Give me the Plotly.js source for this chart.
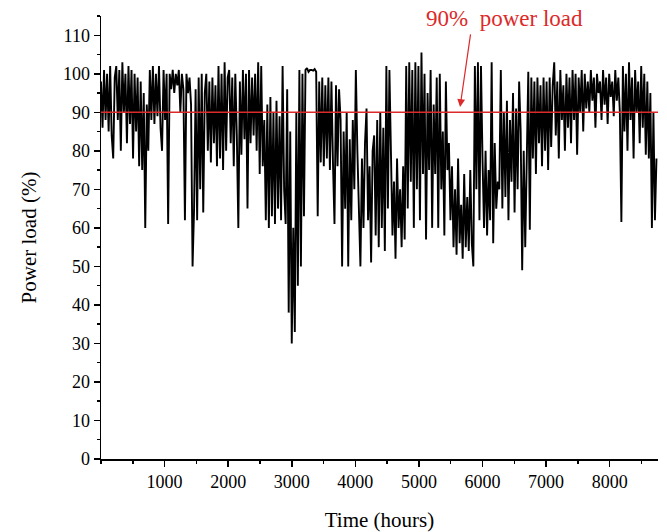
<!DOCTYPE html>
<html>
<head>
<meta charset="utf-8">
<script src="https://cdn.plot.ly/plotly-3.0.1.min.js"></script>
<style>html,body{margin:0;padding:0;background:#fff;}#chart{width:667px;height:532px;}</style>
</head>
<body>
<div id="chart"></div>
<script>
const startHour = 0;
const stepHours = 24;
const loadPct = [
  98, 86, 101, 88, 100, 85, 102, 84, 78, 99,
  102, 88, 101, 80, 103, 90, 100, 82, 102, 87,
  101, 78, 100, 85,
  99, 76, 98, 75, 95, 60, 92, 80,
  101, 88, 102, 87, 100, 89, 102, 86, 80, 101, 88, 100,
  61, 100, 96, 101, 95, 100, 97, 101, 90, 100, 96, 62, 100, 95, 99, 92, 50,
  65, 96, 62, 99, 70, 100, 64, 95,
  100, 80, 98, 77, 99, 82, 97, 76,
  102, 78, 100, 75, 103, 80, 99,
  101, 82, 99, 76, 100, 84, 60, 98, 79, 101, 83,
  100, 65, 101, 82, 99, 84, 100, 80,
  103, 74, 102, 76,
  88, 62, 92, 60, 94, 63, 90, 61, 93, 65, 89, 62,
  102, 70,
  61, 96, 38, 85, 30, 60, 33, 90, 45,
  101, 50, 100, 63,
  101, 101.5, 100.5, 101, 101, 100.8, 101.2, 100.5,
  63, 98, 77, 99, 76, 97, 78, 99, 75, 98, 77, 61, 97, 76, 96,
  88, 50, 85, 65, 90, 50, 83, 62, 88, 70, 101,
  80, 61, 50, 78, 60, 82, 91, 62, 76, 51, 80,
  84, 58, 88, 55, 90, 60, 86, 54,
  102, 65, 101,
  75, 58, 72, 52, 78, 60, 70, 55, 76, 57,
  102, 65, 103, 72, 101, 60, 103, 70, 102, 62, 105.5,
  74, 100, 57, 95, 75, 101, 60, 92, 74, 99,
  60, 100, 70, 85, 58, 98, 75, 82, 62,
  76, 55, 70, 53, 78, 56, 66, 52, 74, 55, 68, 54, 75, 56,
  50, 102, 70, 103, 62, 102, 78, 60,
  80, 58, 75, 62, 103, 56, 82, 65, 72,
  70, 101, 65, 90, 68, 93, 62, 88, 72, 95, 64, 91, 70, 98,
  85, 49, 80, 55, 84,
  100.5, 59.5,
  99, 78, 98, 74, 99, 82, 97, 76, 99, 80, 98, 75, 99, 81, 97,
  103, 84, 98, 78, 101, 88, 97, 80, 100, 86, 99,
  82, 101, 88, 100, 79, 99, 90, 101, 85, 100, 91,
  98, 90, 101, 93, 99, 86, 100, 95, 98, 88, 101, 92, 99, 87, 100, 94, 98, 89, 101, 93, 99,
  90, 61.5,
  102, 85, 100, 80, 103, 88, 99, 78, 101, 90, 98, 82, 102, 86, 100, 79,
  98, 78, 95, 60, 90, 62, 78
];
const threshold = 90;
const hoursInYear = 8760;
const xTickVals = [1000, 2000, 3000, 4000, 5000, 6000, 7000, 8000];
const xTickText = ["1000", "2000", "3000", "4000", "5000", "6000", "7000", "8000"];
const yTickVals = [0, 10, 20, 30, 40, 50, 60, 70, 80, 90, 100, 110];
const annotationText = "90%&nbsp;&nbsp;power load";

const serif = "Liberation Serif, Times New Roman, serif";
const red = "#dc2a2a";

const traces = [{
  type: "scatter",
  mode: "lines",
  x0: startHour,
  dx: stepHours,
  y: loadPct,
  line: {color: "#000000", width: 1.9},
  hoverinfo: "none",
  showlegend: false
}];

const layout = {
  width: 667,
  height: 532,
  margin: {l: 101, r: 9, t: 16, b: 73},
  paper_bgcolor: "#ffffff",
  plot_bgcolor: "#ffffff",
  font: {family: serif, size: 18, color: "#000000"},
  showlegend: false,
  xaxis: {
    range: [0, hoursInYear],
    tickmode: "array",
    tickvals: xTickVals,
    ticktext: xTickText,
    ticks: "outside",
    ticklen: 6,
    tickwidth: 1.5,
    tickcolor: "#000",
    minor: {tick0: 0, dtick: 500, ticks: "outside", ticklen: 3, tickwidth: 1.5, tickcolor: "#000"},
    showline: true,
    linecolor: "#000",
    linewidth: 1.5,
    showgrid: false,
    zeroline: false,
    tickfont: {family: serif, size: 18, color: "#000"},
    title: {text: "Time (hours)", font: {family: serif, size: 21, color: "#000"}, standoff: 22}
  },
  yaxis: {
    range: [0, 115],
    tickmode: "array",
    tickvals: yTickVals,
    ticks: "outside",
    ticklen: 6,
    tickwidth: 1.5,
    tickcolor: "#000",
    minor: {tick0: 0, dtick: 5, ticks: "outside", ticklen: 3, tickwidth: 1.5, tickcolor: "#000"},
    showline: true,
    linecolor: "#000",
    linewidth: 1.5,
    showgrid: false,
    zeroline: false,
    tickfont: {family: serif, size: 18, color: "#000"},
    title: {text: "Power load (%)", font: {family: serif, size: 21, color: "#000"}, standoff: 20}
  },
  shapes: [{
    type: "line",
    xref: "x", yref: "y",
    x0: 0, x1: hoursInYear, y0: threshold, y1: threshold,
    line: {color: red, width: 1.5},
    layer: "above"
  }],
  annotations: [
    {
      xref: "x", yref: "y",
      x: 6340, y: 114.3,
      text: annotationText,
      showarrow: false,
      font: {family: serif, size: 23, color: red},
      xanchor: "center", yanchor: "middle"
    },
    {
      xref: "x", yref: "y",
      axref: "x", ayref: "y",
      x: 5647, y: 91.4,
      ax: 5815, ay: 110.6,
      text: "",
      showarrow: true,
      arrowhead: 2,
      arrowsize: 1.3,
      arrowwidth: 1.2,
      arrowcolor: red
    }
  ]
};

Plotly.newPlot("chart", traces, layout, {displayModeBar: false, staticPlot: true});
</script>
</body>
</html>
